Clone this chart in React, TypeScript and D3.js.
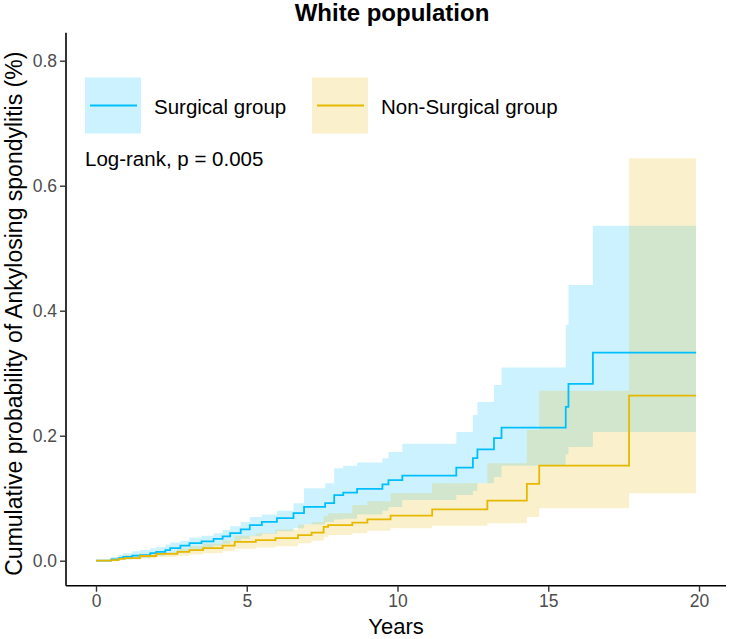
import React, { useEffect, useRef } from 'react';
import * as d3 from 'd3';

// Kaplan-Meier cumulative incidence, surgical group
const surgTime = [0, 0.5, 0.75, 0.9, 1.2, 1.46, 1.8, 2.0, 2.3, 2.46, 2.8, 3.1, 3.5, 3.9, 4.2, 4.45, 4.8, 5.1, 5.5, 6.0, 6.55, 6.9, 7.6, 7.9, 8.2, 8.66, 9.5, 9.7, 10.16, 11.95, 12.5, 12.65, 13.2, 13.45, 15.58, 15.67, 16.48, 19.9];
const surgEst = [0, 0.002, 0.004, 0.006, 0.008, 0.009, 0.012, 0.014, 0.017, 0.02, 0.024, 0.028, 0.031, 0.035, 0.039, 0.044, 0.05, 0.057, 0.062, 0.068, 0.076, 0.086, 0.092, 0.105, 0.109, 0.115, 0.122, 0.129, 0.136, 0.149, 0.164, 0.178, 0.196, 0.213, 0.246, 0.283, 0.333, 0.333];
const surgLower = [0, 0, 0.001, 0.002, 0.003, 0.004, 0.006, 0.008, 0.01, 0.012, 0.015, 0.017, 0.02, 0.024, 0.027, 0.031, 0.035, 0.039, 0.043, 0.047, 0.052, 0.058, 0.062, 0.066, 0.067, 0.074, 0.08, 0.086, 0.097, 0.105, 0.112, 0.124, 0.134, 0.152, 0.17, 0.182, 0.206, 0.206];
const surgUpper = [0, 0.006, 0.009, 0.012, 0.015, 0.017, 0.02, 0.022, 0.026, 0.029, 0.032, 0.037, 0.04, 0.044, 0.049, 0.055, 0.062, 0.07, 0.074, 0.08, 0.092, 0.116, 0.124, 0.148, 0.152, 0.157, 0.164, 0.174, 0.187, 0.206, 0.233, 0.254, 0.281, 0.309, 0.377, 0.441, 0.536, 0.536];

// Non-surgical group
const nonTime = [0, 0.5, 0.75, 0.95, 1.46, 2.0, 2.7, 3.1, 3.55, 4.2, 4.6, 5.3, 5.95, 6.7, 7.15, 7.55, 7.7, 8.5, 9.0, 9.77, 11.15, 12.98, 14.29, 14.7, 17.68, 19.9];
const nonEst = [0, 0.001, 0.003, 0.004, 0.0075, 0.011, 0.014, 0.017, 0.02, 0.024, 0.03, 0.033, 0.036, 0.041, 0.045, 0.054, 0.057, 0.061, 0.066, 0.072, 0.082, 0.096, 0.123, 0.152, 0.264, 0.264];
const nonLower = [0, 0, 0.001, 0.002, 0.004, 0.006, 0.008, 0.01, 0.012, 0.015, 0.019, 0.021, 0.023, 0.028, 0.032, 0.038, 0.041, 0.044, 0.048, 0.052, 0.056, 0.06, 0.07, 0.084, 0.108, 0.108];
const nonUpper = [0, 0.004, 0.007, 0.009, 0.011, 0.014, 0.019, 0.023, 0.027, 0.032, 0.04, 0.044, 0.05, 0.058, 0.062, 0.072, 0.076, 0.089, 0.095, 0.108, 0.124, 0.156, 0.209, 0.272, 0.644, 0.644];

const groupNames = ['Surgical group', 'Non-Surgical group'];
const groupColors = ['#00BFFF', '#E7B800'];
const xTicks = [0, 5, 10, 15, 20];
const yTicks = [0, 0.2, 0.4, 0.6, 0.8];

type Pt = { t: number; e: number; lo: number; hi: number };

const toPoints = (t: number[], e: number[], lo: number[], hi: number[]): Pt[] =>
  t.map((v, i) => ({ t: v, e: e[i], lo: lo[i], hi: hi[i] }));

const App = () => {
  const svgRef = useRef<SVGSVGElement>(null);

  useEffect(() => {
    const width = 731, height = 639;
    const margin = { top: 35.7, right: 5, bottom: 53.3, left: 66 };

    const svg = d3.select(svgRef.current)
      .attr('width', width)
      .attr('height', height);
    svg.selectAll('*').remove();

    const x = d3.scaleLinear().domain([-0.995, 20.895]).range([margin.left, width - margin.right]);
    const y = d3.scaleLinear().domain([-0.04, 0.84]).range([height - margin.bottom, margin.top]);

    const groups = [
      toPoints(surgTime, surgEst, surgLower, surgUpper),
      toPoints(nonTime, nonEst, nonLower, nonUpper),
    ];

    const area = d3.area<Pt>()
      .x(d => x(d.t))
      .y0(d => y(d.lo))
      .y1(d => y(d.hi))
      .curve(d3.curveStepAfter);
    const line = d3.line<Pt>()
      .x(d => x(d.t))
      .y(d => y(d.e))
      .curve(d3.curveStepAfter);

    // confidence bands
    groups.forEach((g, i) => {
      svg.append('path')
        .attr('d', area(g))
        .attr('fill', groupColors[i])
        .attr('fill-opacity', 0.2);
    });
    // estimates
    groups.forEach((g, i) => {
      svg.append('path')
        .attr('d', line(g))
        .attr('fill', 'none')
        .attr('stroke', groupColors[i])
        .attr('stroke-width', 1.8);
    });

    // axes
    const xAxis = svg.append('g')
      .attr('transform', `translate(0,${height - margin.bottom})`)
      .call(d3.axisBottom(x).tickValues(xTicks).tickSize(6).tickPadding(3).tickFormat(d3.format('d')));
    const yAxis = svg.append('g')
      .attr('transform', `translate(${margin.left},0)`)
      .call(d3.axisLeft(y).tickValues(yTicks).tickSize(6).tickPadding(3).tickFormat(d3.format('.1f')));
    [xAxis, yAxis].forEach(ax => {
      ax.select('.domain').attr('stroke', '#000').attr('stroke-width', 1.6);
      ax.selectAll('.tick line').attr('stroke', '#333').attr('stroke-width', 1.4);
      ax.selectAll('.tick text')
        .attr('fill', '#4D4D4D')
        .style('font-family', '"Liberation Sans", Arial, sans-serif')
        .style('font-size', '17.5px');
    });
    xAxis.select('.domain').attr('d', `M${margin.left},0H${width - margin.right}`);
    yAxis.select('.domain').attr('d', `M0,${height - margin.bottom}V${margin.top - 3}`);

    const font = '"Liberation Sans", Arial, sans-serif';

    svg.append('text')
      .attr('x', 392).attr('y', 21)
      .attr('text-anchor', 'middle')
      .style('font-family', font)
      .style('font-size', '24px')
      .style('font-weight', 'bold')
      .text('White population');

    svg.append('text')
      .attr('x', (margin.left + width - margin.right) / 2).attr('y', 634)
      .attr('text-anchor', 'middle')
      .style('font-family', font)
      .style('font-size', '22px')
      .text('Years');

    svg.append('text')
      .attr('transform', `translate(22,${(margin.top + height - margin.bottom) / 2 + 3}) rotate(-90)`)
      .attr('text-anchor', 'middle')
      .style('font-family', font)
      .style('font-size', '23px')
      .text('Cumulative probability of Ankylosing spondylitis (%)');

    // legend
    const legendX = [85, 312];
    groupNames.forEach((name, i) => {
      const lg = svg.append('g').attr('transform', `translate(${legendX[i]},77.5)`);
      lg.append('rect')
        .attr('width', 56).attr('height', 56)
        .attr('fill', groupColors[i]).attr('fill-opacity', 0.2);
      lg.append('line')
        .attr('x1', 5).attr('x2', 52).attr('y1', 28).attr('y2', 28)
        .attr('stroke', groupColors[i]).attr('stroke-width', 1.8);
      lg.append('text')
        .attr('x', 69).attr('y', 36)
        .style('font-family', font)
        .style('font-size', '20.5px')
        .text(name);
    });

    svg.append('text')
      .attr('x', 85).attr('y', 166)
      .style('font-family', font)
      .style('font-size', '20.5px')
      .text('Log-rank, p = 0.005');
  }, []);

  return (
    <div style={{ position: 'absolute', left: 0, top: 0 }}>
      <svg ref={svgRef} style={{ display: 'block' }}></svg>
    </div>
  );
};

export default App;
